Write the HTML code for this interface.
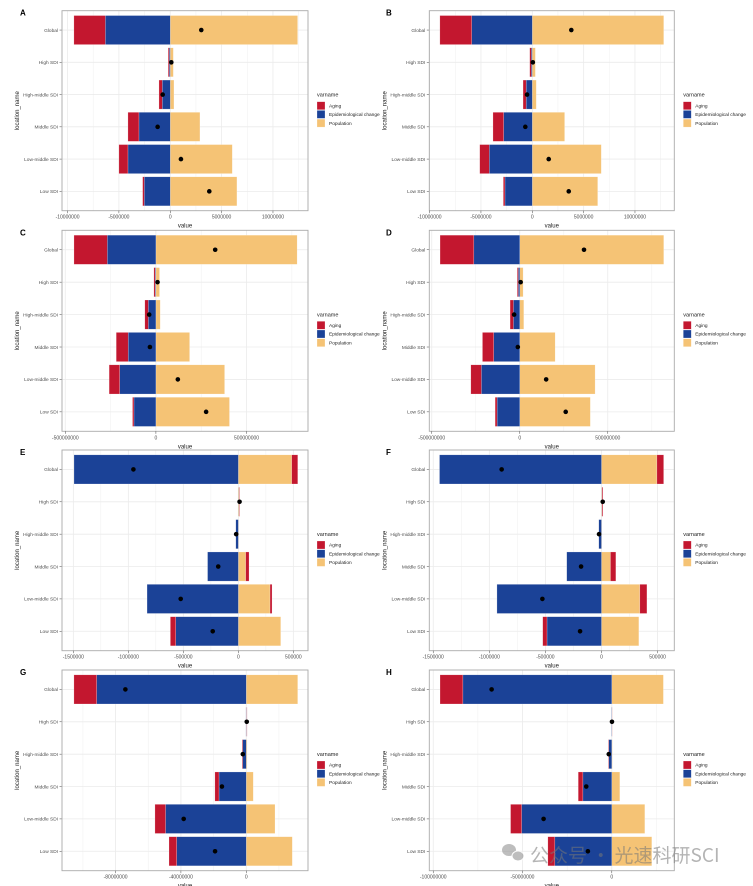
<!DOCTYPE html>
<html><head><meta charset="utf-8">
<style>
body{margin:0;background:#fff;}
svg{display:block;font-family:"Liberation Sans","Noto Sans CJK SC",sans-serif;}
</style></head>
<body>
<svg id="fig" width="753" height="886" viewBox="0 0 753 886" xmlns="http://www.w3.org/2000/svg"></svg>
<script>
const categories = ["Global","High SDI","High-middle SDI","Middle SDI","Low-middle SDI","Low SDI"];
const seriesNames = ["Aging","Epidemiological change","Population"];
const panelLetters = ["A","B","C","D","E","F","G","H"];

const agingA = [-3060000,-100000,-320000,-1070000,-880000,-160000];
const epiA   = [-6320000,-100000,-780000,-3050000,-4120000,-2530000];
const popA   = [12400000,300000,360000,2890000,6040000,6490000];
const agingB = [-3100000,-150000,-300000,-1040000,-930000,-160000];
const epiB   = [-5900000,-100000,-600000,-2790000,-4190000,-2660000];
const popB   = [12800000,300000,390000,3150000,6720000,6370000];
const agingC = [-184e6,-7e6,-19e6,-66e6,-58e6,-8e6];
const epiC   = [-268e6,-4e6,-42e6,-153e6,-200e6,-121e6];
const popC   = [779e6,20e6,24e6,186e6,379e6,406e6];
const agingD = [-192e6,-6e6,-19e6,-64e6,-60e6,-11e6];
const epiD   = [-261e6,-8e6,-36e6,-148e6,-218e6,-129e6];
const popD   = [818e6,19e6,23e6,201e6,428e6,401e6];
const agingE = [55000,5000,0,30000,18000,-49000];
const epiE   = [-1494000,-2000,-23000,-280000,-830000,-569000];
const popE   = [485000,8000,3000,67000,288000,385000];
const agingF = [60000,8000,0,48000,63000,-38000];
const epiF   = [-1444000,-2000,-24000,-310000,-932000,-486000];
const popF   = [494000,5000,2000,80000,342000,333000];
const agingG = [-13.9e6,0.2e6,-0.4e6,-2.5e6,-6.5e6,-4.7e6];
const epiG   = [-91.6e6,-0.2e6,-2.2e6,-16.7e6,-49.4e6,-42.6e6];
const popG   = [31.5e6,0.3e6,0.5e6,4.3e6,17.6e6,28.2e6];
const agingH = [-12.8e6,0.1e6,-0.3e6,-2.6e6,-6.2e6,-3.9e6];
const epiH   = [-83.4e6,-0.2e6,-1.7e6,-16.2e6,-50.5e6,-31.9e6];
const popH   = [28.9e6,0.2e6,0.3e6,4.5e6,18.5e6,22.4e6];

const domainA = [-10540000,13410000];
const domainB = [-10030000,13830000];
const domainC = [-518e6,839e6];
const domainD = [-514e6,878e6];
const domainE = [-1603000,633000];
const domainF = [-1535000,649000];
const domainG = [-112.8e6,37.8e6];
const domainH = [-102.2e6,35.0e6];

const ticksA = [-10000000,-5000000,0,5000000,10000000];
const ticksB = [-10000000,-5000000,0,5000000,10000000];
const ticksC = [-500000000,0,500000000];
const ticksD = [-500000000,0,500000000];
const ticksE = [-1500000,-1000000,-500000,0,500000];
const ticksF = [-1500000,-1000000,-500000,0,500000];
const ticksG = [-80000000,-40000000,0];
const ticksH = [-100000000,-50000000,0];

const panels = [
 {aging:agingA,epi:epiA,pop:popA,dom:domainA,ticks:ticksA},
 {aging:agingB,epi:epiB,pop:popB,dom:domainB,ticks:ticksB},
 {aging:agingC,epi:epiC,pop:popC,dom:domainC,ticks:ticksC},
 {aging:agingD,epi:epiD,pop:popD,dom:domainD,ticks:ticksD},
 {aging:agingE,epi:epiE,pop:popE,dom:domainE,ticks:ticksE},
 {aging:agingF,epi:epiF,pop:popF,dom:domainF,ticks:ticksF},
 {aging:agingG,epi:epiG,pop:popG,dom:domainG,ticks:ticksG},
 {aging:agingH,epi:epiH,pop:popH,dom:domainH,ticks:ticksH}
];
const colors = {aging:"#C3172F",epi:"#1B4297",pop:"#F5C375"};
const NS = "http://www.w3.org/2000/svg";
const svg = document.getElementById("fig");
function mk(tag, attrs, parent){const e=document.createElementNS(NS,tag);for(const k in attrs)e.setAttribute(k,attrs[k]);(parent||svg).appendChild(e);return e;}

const colX = [[62,308],[429.3,674.3]];
const rowY = [[10.7,210.7],[230.3,431.3],[450,650.7],[670,870.7]];

panels.forEach((p,i)=>{
  const L=colX[i%2][0], R=colX[i%2][1], T=rowY[Math.floor(i/2)][0], B=rowY[Math.floor(i/2)][1];
  const g = mk("g",{});
  
  
  const xs = v => L + (v - p.dom[0])/(p.dom[1]-p.dom[0])*(R-L);
  const unit = (B-T)/6.2;
  const yc = k => T + (0.6 + k)*unit;
  const step = p.ticks[1]-p.ticks[0];
  for(let v=p.ticks[0]-step*3; v<=p.dom[1]+step*3; v+=step/2){
    if(v<p.dom[0]||v>p.dom[1]) continue;
    const major = p.ticks.some(t=>Math.abs(t-v)<step*1e-6);
    mk("line",{x1:xs(v),x2:xs(v),y1:T,y2:B,stroke:"#ebebeb","stroke-width":major?0.8:0.4},g);
  }
  categories.forEach((c,k)=>mk("line",{x1:L,x2:R,y1:yc(k),y2:yc(k),stroke:"#ebebeb","stroke-width":0.8},g));
  categories.forEach((c,k)=>{
    let posBase=0,negBase=0;
    [["pop",p.pop[k]],["epi",p.epi[k]],["aging",p.aging[k]]].forEach(([s,v])=>{
      let a,b;
      if(v>=0){a=posBase;b=posBase+v;posBase=b;}else{a=negBase+v;b=negBase;negBase=a;}
      const r = mk("rect",{x:xs(a),y:yc(k)-0.45*unit,width:Math.max(0,xs(b)-xs(a)),height:0.9*unit,fill:colors[s],stroke:"rgba(255,255,255,0.5)","stroke-width":0.4},g);
      
      
    });
    const total = p.pop[k]+p.epi[k]+p.aging[k];
    const d = mk("circle",{cx:xs(total),cy:yc(k),r:2.3,fill:"#000"},g);
    
    
    mk("line",{x1:L-2.5,x2:L,y1:yc(k),y2:yc(k),stroke:"#444","stroke-width":0.5},g);
    const t = mk("text",{x:L-4,y:yc(k)+1.8,"font-size":4.8,fill:"#4d4d4d","text-anchor":"end"},g);
    t.textContent=c;
    
    
  });
  mk("rect",{x:L,y:T,width:R-L,height:B-T,fill:"none",stroke:"#aaa","stroke-width":0.9},g);
  p.ticks.forEach(v=>{
    mk("line",{x1:xs(v),x2:xs(v),y1:B,y2:B+2.5,stroke:"#444","stroke-width":0.5},g);
    const t = mk("text",{x:xs(v),y:B+8,"font-size":5,fill:"#4d4d4d","text-anchor":"middle"},g);
    t.textContent=String(v);
    
    
  });
  const xt = mk("text",{x:(L+R)/2,y:B+17,"font-size":6,fill:"#222","text-anchor":"middle"},g);
  xt.textContent="value";
  
  
  const yx = L-43, ym=(T+B)/2;
  const yt = mk("text",{x:yx,y:ym,"font-size":6,fill:"#222","text-anchor":"middle",transform:`rotate(-90 ${yx} ${ym})`},g);
  yt.textContent="location_name";
  
  
  const lt = mk("text",{x:i%2?386:20,y:T+5,"font-size":8,"font-weight":"bold",fill:"#000"},g);
  lt.textContent=panelLetters[i];
  
  
  const lx = R+9, ly = T+86;
  const lg = mk("g",{},g);
  
  
  const ttl = mk("text",{x:lx,y:ly,"font-size":5.5,fill:"#222"},lg);
  ttl.textContent="varname";
  ["aging","epi","pop"].forEach((s,j)=>{
    mk("rect",{x:lx,y:ly+5+j*8.7,width:8,height:8,fill:colors[s],stroke:"rgba(255,255,255,0.6)","stroke-width":0.4},lg);
    const e = mk("text",{x:lx+12,y:ly+10.7+j*8.7,"font-size":4.8,fill:"#222"},lg);
    e.textContent=seriesNames[j];
    
    
  });
});
const wm = mk("g",{opacity:0.55});


mk("ellipse",{cx:509,cy:850,rx:7,ry:6,fill:"#888"},wm);
mk("ellipse",{cx:518,cy:856,rx:6,ry:5,fill:"#888",stroke:"#fff","stroke-width":1},wm);
const wt = mk("text",{x:530,y:862,"font-size":19,fill:"#777","font-family":"'Noto Sans CJK SC',sans-serif"},wm);
wt.textContent="公众号 · 光速科研SCI";
</script>
</body></html>
